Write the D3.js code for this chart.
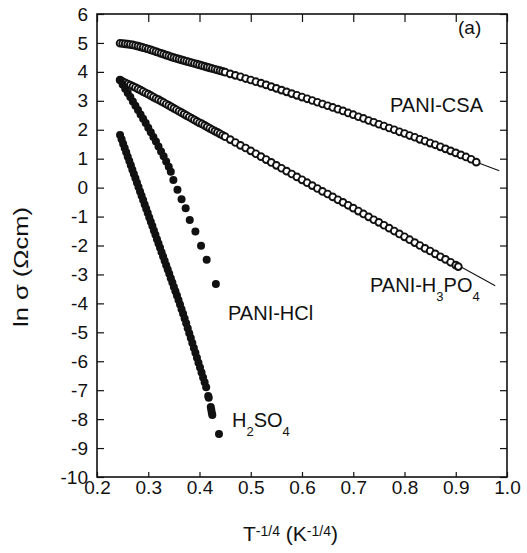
<!DOCTYPE html>
<html>
<head>
<meta charset="utf-8">
<script src="https://cdn.jsdelivr.net/npm/d3@7"></script>
<style>
body { margin: 0; background: #fff; }
text { font-family: "Liberation Sans", Arial, sans-serif; fill: #111; }
</style>
</head>
<body>
<div id="chart"></div>
<script>
// PANI-CSA (open circles)
const csaX = [0.245,0.25,0.255,0.26,0.265,0.27,0.275,0.28,0.285,0.29,0.295,0.30,0.305,0.31,0.315,0.32,0.325,0.33,0.335,0.34,0.345,0.35,0.355,0.36,0.365,0.37,0.375,0.38,0.385,0.39,0.395,0.40,0.405,0.41,0.415,0.42,0.425,0.43,0.435,0.44,0.445,0.45,
  0.46,0.47,0.48,0.49,0.50,0.51,0.52,0.53,0.54,0.55,0.56,0.57,0.58,0.59,0.60,0.61,0.62,0.63,0.64,0.65,0.66,0.67,0.68,0.69,0.70,0.71,0.72,0.73,0.74,0.75,0.76,0.77,0.78,0.79,0.80,0.81,0.82,0.83,0.84,0.85,0.86,0.87,0.88,0.89,0.90,0.91,0.92,0.93,0.94];
const csaY = [4.99,4.98,4.97,4.96,4.945,4.93,4.91,4.89,4.865,4.84,4.815,4.79,4.76,4.73,4.70,4.67,4.64,4.61,4.58,4.55,4.52,4.49,4.465,4.44,4.415,4.39,4.365,4.34,4.315,4.29,4.265,4.24,4.215,4.19,4.165,4.14,4.115,4.09,4.065,4.04,4.015,3.99,
  3.93,3.88,3.83,3.77,3.72,3.66,3.61,3.55,3.49,3.43,3.37,3.31,3.25,3.19,3.13,3.07,3.01,2.95,2.89,2.83,2.77,2.71,2.65,2.58,2.52,2.45,2.39,2.32,2.26,2.19,2.13,2.06,2.00,1.93,1.87,1.80,1.74,1.67,1.61,1.54,1.48,1.41,1.34,1.27,1.20,1.13,1.06,0.98,0.88];

// PANI-H3PO4 (open circles)
const phoX = [0.245,0.25,0.255,0.26,0.265,0.27,0.275,0.28,0.285,0.29,0.295,0.30,0.305,0.31,0.315,0.32,0.325,0.33,0.335,0.34,0.345,0.35,0.355,0.36,0.365,0.37,0.375,0.38,0.385,0.39,0.395,0.40,0.405,0.41,0.415,0.42,0.425,0.43,0.435,0.44,0.445,0.45,
  0.46,0.47,0.48,0.49,0.50,0.51,0.52,0.53,0.54,0.55,0.56,0.57,0.58,0.59,0.60,0.61,0.62,0.63,0.64,0.65,0.66,0.67,0.68,0.69,0.70,0.71,0.72,0.73,0.74,0.75,0.76,0.77,0.78,0.79,0.80,0.81,0.82,0.83,0.84,0.85,0.86,0.87,0.88,0.89,0.90,0.905];
const phoY = [3.72,3.66,3.62,3.58,3.54,3.50,3.46,3.41,3.37,3.32,3.27,3.23,3.18,3.13,3.08,3.04,2.99,2.94,2.89,2.84,2.79,2.74,2.69,2.64,2.59,2.54,2.49,2.44,2.39,2.34,2.29,2.24,2.20,2.15,2.10,2.05,2.00,1.95,1.91,1.86,1.81,1.76,
  1.66,1.56,1.46,1.37,1.27,1.17,1.07,0.97,0.87,0.77,0.67,0.57,0.47,0.37,0.27,0.17,0.07,-0.03,-0.13,-0.22,-0.32,-0.42,-0.51,-0.61,-0.71,-0.81,-0.91,-1.01,-1.11,-1.20,-1.30,-1.40,-1.50,-1.60,-1.70,-1.80,-1.90,-2.00,-2.10,-2.19,-2.29,-2.39,-2.48,-2.58,-2.68,-2.73];

// PANI-HCl (filled)
const hclX = [0.245,0.25,0.255,0.26,0.265,0.27,0.275,0.28,0.285,0.29,0.295,0.30,0.305,0.31,0.315,0.32,0.325,0.33,0.335,0.34,0.344,0.349,0.357,0.365,0.373,0.381,0.392,0.403,0.414,0.432];
const hclY = [3.72,3.56,3.42,3.27,3.13,2.98,2.83,2.68,2.53,2.38,2.23,2.07,1.91,1.75,1.59,1.42,1.25,1.08,0.90,0.72,0.55,0.26,-0.07,-0.40,-0.71,-1.12,-1.52,-2.01,-2.49,-3.33];

// H2SO4 (filled)
const hsoX = [0.245,0.248,0.251,0.254,0.257,0.260,0.263,0.266,0.269,0.272,0.275,0.278,0.281,0.284,0.287,0.290,0.293,0.296,0.299,0.302,0.305,0.308,0.311,0.314,0.317,0.320,0.323,0.326,0.329,0.332,0.335,0.338,0.341,0.344,0.347,0.350,0.353,0.356,0.359,0.362,0.365,0.368,0.371,0.374,0.377,0.380,0.383,0.386,0.389,0.392,0.395,0.398,0.401,0.404,0.407,0.410,0.413,0.417,0.418,0.422,0.423,0.424,0.425,0.438];
const hsoY = [1.82,1.67,1.52,1.37,1.22,1.07,0.92,0.77,0.62,0.47,0.32,0.17,0.02,-0.13,-0.28,-0.43,-0.58,-0.73,-0.88,-1.03,-1.18,-1.33,-1.48,-1.63,-1.78,-1.93,-2.08,-2.23,-2.38,-2.53,-2.68,-2.83,-2.98,-3.13,-3.28,-3.43,-3.58,-3.73,-3.88,-4.04,-4.20,-4.36,-4.52,-4.69,-4.86,-5.03,-5.20,-5.37,-5.54,-5.71,-5.88,-6.05,-6.22,-6.39,-6.56,-6.73,-6.90,-7.20,-7.26,-7.58,-7.68,-7.78,-7.86,-8.51];

// straight fit lines
const csaFitX = [0.55, 0.985];
const csaFitY = [3.47, 0.58];
const phoFitX = [0.55, 0.977];
const phoFitY = [0.77, -3.39];

const xTicks = [0.2,0.3,0.4,0.5,0.6,0.7,0.8,0.9,1.0];
const yTicks = [-10,-9,-8,-7,-6,-5,-4,-3,-2,-1,0,1,2,3,4,5,6];

const margin = {top: 14, right: 20, bottom: 76, left: 97};
const width = 527 - margin.left - margin.right;
const height = 553 - margin.top - margin.bottom;

const x = d3.scaleLinear().domain([0.2, 1.0]).range([0, width]);
const y = d3.scaleLinear().domain([-10, 6]).range([height, 0]);

const svg = d3.select("#chart")
    .append("svg")
        .attr("width", 527)
        .attr("height", 553)
    .append("g")
        .attr("transform", `translate(${margin.left}, ${margin.top})`);

const pts = (xs, ys) => xs.map((v, i) => ({x: v, y: ys[i]}));
const font = '"Liberation Sans", Arial, sans-serif';

// axes (ticks pointing inward)
function styleAxis(g) {
    g.select(".domain").remove();
    g.selectAll(".tick line").attr("stroke", "#111").attr("stroke-width", 1.2);
    g.attr("font-family", font).attr("font-size", 19);
    g.selectAll(".tick text").attr("fill", "#111");
}

svg.append("g")
    .attr("transform", `translate(0, ${height})`)
    .call(d3.axisBottom(x).tickValues(xTicks).tickSize(-5).tickSizeOuter(0).tickPadding(3)
        .tickFormat(d => d.toFixed(1)))
    .call(styleAxis);

svg.append("g")
    .call(d3.axisLeft(y).tickValues(yTicks).tickSize(-7).tickSizeOuter(0).tickPadding(9)
        .tickFormat(d => String(d)))
    .call(styleAxis);

svg.append("g")
    .call(d3.axisTop(x).tickValues(xTicks).tickSize(-8).tickSizeOuter(0).tickFormat(""))
    .call(styleAxis);

svg.append("g")
    .attr("transform", `translate(${width}, 0)`)
    .call(d3.axisRight(y).tickValues(yTicks).tickSize(-7).tickSizeOuter(0).tickFormat(""))
    .call(styleAxis);

// frame
svg.append("rect")
    .attr("width", width)
    .attr("height", height)
    .attr("fill", "none")
    .attr("stroke", "#111")
    .attr("stroke-width", 1.6);

// fit lines
const line = d3.line().x(d => x(d.x)).y(d => y(d.y));
[[csaFitX, csaFitY], [phoFitX, phoFitY]].forEach(([xs, ys]) => {
    svg.append("path")
        .datum(pts(xs, ys))
        .attr("fill", "none")
        .attr("stroke", "#111")
        .attr("stroke-width", 1.1)
        .attr("d", line);
});

// open circle series
[[csaX, csaY], [phoX, phoY]].forEach(([xs, ys]) => {
    svg.append("g").selectAll("circle")
        .data(pts(xs, ys))
        .join("circle")
            .attr("cx", d => x(d.x))
            .attr("cy", d => y(d.y))
            .attr("r", 3.4)
            .attr("fill", "#fff")
            .attr("stroke", "#111")
            .attr("stroke-width", 1.9);
});

// filled series
[[hclX, hclY], [hsoX, hsoY]].forEach(([xs, ys]) => {
    svg.append("g").selectAll("circle")
        .data(pts(xs, ys))
        .join("circle")
            .attr("cx", d => x(d.x))
            .attr("cy", d => y(d.y))
            .attr("r", 4)
            .attr("fill", "#111");
});

// curve labels
svg.append("text")
    .attr("x", 458 - margin.left).attr("y", 34 - margin.top)
    .style("font-size", "19px")
    .text("(a)");

svg.append("text")
    .attr("x", 390 - margin.left).attr("y", 112 - margin.top)
    .style("font-size", "20px")
    .text("PANI-CSA");

const pho = svg.append("text")
    .attr("x", 370 - margin.left).attr("y", 292 - margin.top)
    .style("font-size", "20px");
pho.append("tspan").text("PANI-H");
pho.append("tspan").attr("dy", 9).style("font-size", "13px").text("3");
pho.append("tspan").attr("dy", -9).text("PO");
pho.append("tspan").attr("dy", 9).style("font-size", "13px").text("4");

svg.append("text")
    .attr("x", 228 - margin.left).attr("y", 320 - margin.top)
    .style("font-size", "20px")
    .text("PANI-HCl");

const hso = svg.append("text")
    .attr("x", 232 - margin.left).attr("y", 427 - margin.top)
    .style("font-size", "20px");
hso.append("tspan").text("H");
hso.append("tspan").attr("dy", 9).style("font-size", "13px").text("2");
hso.append("tspan").attr("dy", -9).text("SO");
hso.append("tspan").attr("dy", 9).style("font-size", "13px").text("4");

// x-axis label
const xl = svg.append("text")
    .attr("x", 243 - margin.left)
    .attr("y", 541 - margin.top)
    .style("font-size", "21px");
xl.append("tspan").text("T");
xl.append("tspan").attr("dy", -5).style("font-size", "14px").text("-1/4");
xl.append("tspan").attr("dy", 5).text(" (K");
xl.append("tspan").attr("dy", -5).style("font-size", "14px").text("-1/4");
xl.append("tspan").attr("dy", 5).text(")");

// y-axis label
svg.append("text")
    .attr("transform", "rotate(-90)")
    .attr("x", -(267 - margin.top))
    .attr("y", 28 - margin.left)
    .attr("text-anchor", "middle")
    .attr("textLength", 120)
    .attr("lengthAdjust", "spacingAndGlyphs")
    .style("font-size", "21px")
    .text("ln σ (Ωcm)");
</script>
</body>
</html>
